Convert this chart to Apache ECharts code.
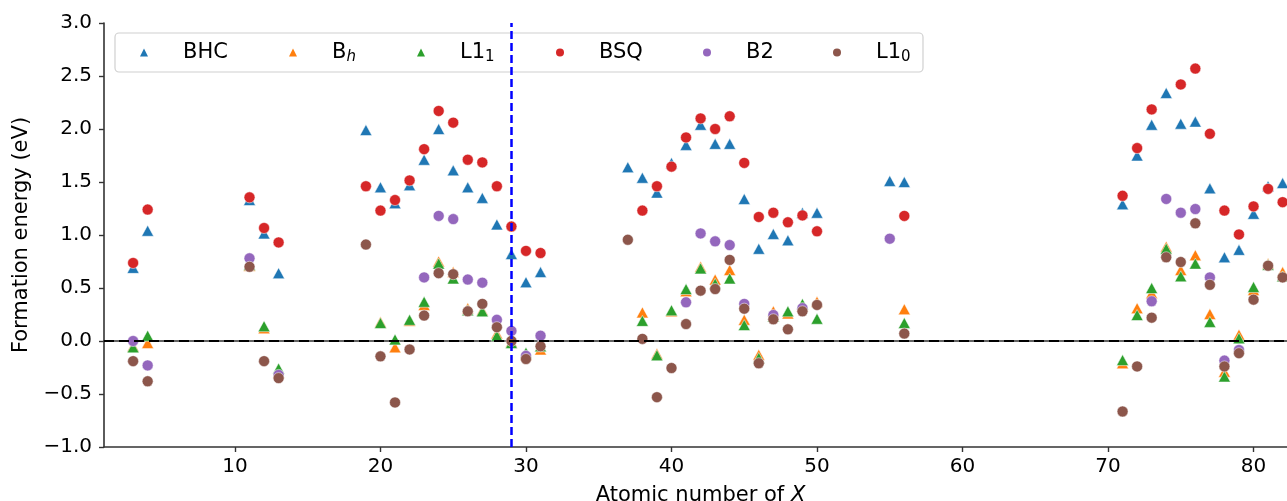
<!DOCTYPE html>
<html>
<head>
<meta charset="utf-8">
<script src="https://cdn.jsdelivr.net/npm/echarts@6/dist/echarts.min.js"></script>
<style>
  html, body { margin: 0; padding: 0; background: #fff; }
  #chart { width: 1287px; height: 501px; }
</style>
</head>
<body>
<div id="chart"></div>
<script>
// atomic number of X
const Z = [3, 4, 11, 12, 13, 19, 20, 21, 22, 23, 24, 25, 26, 27, 28, 29, 30, 31,
  37, 38, 39, 40, 41, 42, 43, 44, 45, 46, 47, 48, 49, 50, 55, 56,
  71, 72, 73, 74, 75, 76, 77, 78, 79, 80, 81, 82];

const BHC = [0.69, 1.04, 1.33, 1.015, 0.64, 1.99, 1.45, 1.30, 1.47, 1.71, 2.00, 1.61, 1.45, 1.35, 1.10, 0.82, 0.555, 0.65,
  1.64, 1.54, 1.40, 1.68, 1.85, 2.04, 1.86, 1.86, 1.34, 0.87, 1.01, 0.95, 1.21, 1.21, 1.51, 1.50,
  1.29, 1.75, 2.04, 2.34, 2.05, 2.07, 1.44, 0.79, 0.86, 1.20, 1.46, 1.49];
const Bh = [-0.05, -0.02, 0.71, 0.12, -0.30, null, 0.18, -0.06, 0.19, 0.34, 0.75, 0.65, 0.31, 0.29, 0.07, -0.01, -0.13, -0.08,
  null, 0.27, -0.12, 0.28, 0.47, 0.70, 0.58, 0.67, 0.20, -0.13, 0.28, 0.26, 0.33, 0.37, null, 0.30,
  -0.21, 0.31, 0.45, 0.89, 0.67, 0.81, 0.255, -0.29, 0.06, 0.48, 0.73, 0.65];
const L11 = [-0.06, 0.05, 0.72, 0.14, -0.26, null, 0.17, 0.015, 0.20, 0.37, 0.73, 0.59, 0.29, 0.28, 0.05, -0.02, -0.11, -0.05,
  null, 0.19, -0.135, 0.29, 0.49, 0.685, 0.54, 0.59, 0.15, -0.16, 0.23, 0.28, 0.35, 0.21, null, 0.17,
  -0.18, 0.245, 0.50, 0.87, 0.61, 0.73, 0.18, -0.335, 0.025, 0.51, 0.72, 0.61];
const BSQ = [0.736, 1.24, 1.355, 1.066, 0.93, 1.46, 1.23, 1.33, 1.515, 1.81, 2.17, 2.06, 1.71, 1.685, 1.46, 1.08, 0.85, 0.83,
  null, 1.23, 1.46, 1.645, 1.92, 2.10, 2.00, 2.12, 1.68, 1.17, 1.21, 1.12, 1.185, 1.035, null, 1.18,
  1.37, 1.82, 2.185, null, 2.42, 2.57, 1.955, 1.23, 1.005, 1.27, 1.435, 1.31];
const B2 = [0.0, -0.23, 0.78, null, -0.32, null, null, null, null, 0.60, 1.18, 1.15, 0.58, 0.55, 0.20, 0.095, -0.14, 0.05,
  null, null, null, null, 0.365, 1.015, 0.94, 0.905, 0.35, null, 0.245, null, 0.31, null, 0.965, null,
  null, null, 0.375, 1.34, 1.21, 1.245, 0.60, -0.185, -0.085, null, null, null];
const L10 = [-0.19, -0.38, 0.70, -0.19, -0.35, 0.91, -0.145, -0.58, -0.08, 0.24, 0.64, 0.63, 0.28, 0.35, 0.13, 0.0, -0.17, -0.05,
  0.955, 0.02, -0.53, -0.255, 0.16, 0.475, 0.49, 0.765, 0.305, -0.21, 0.205, 0.11, 0.28, 0.34, null, 0.07,
  -0.665, -0.24, 0.22, 0.79, 0.745, 1.11, 0.53, -0.24, -0.115, 0.39, 0.71, 0.60];

const xTicks = [10, 20, 30, 40, 50, 60, 70, 80];

const font = 'DejaVu Sans';
const pairs = vals => Z.map((z, i) => [z, vals[i]]).filter(p => p[1] !== null);

const seriesDefs = [
  { name: 'BHC', data: BHC, color: '#1f77b4', symbol: 'triangle', label: '{g| }{n|BHC}', pos: 144 },
  { name: 'Bh', data: Bh, color: '#ff7f0e', symbol: 'triangle', label: '{g| }{n|B}{i|h}', pos: 293 },
  { name: 'L11', data: L11, color: '#2ca02c', symbol: 'triangle', label: '{g| }{n|L1}{s|1}', pos: 421 },
  { name: 'BSQ', data: BSQ, color: '#d62728', symbol: 'circle', label: '{g| }{n|BSQ}', pos: 560 },
  { name: 'B2', data: B2, color: '#9467bd', symbol: 'circle', label: '{g| }{n|B2}', pos: 707 },
  { name: 'L10', data: L10, color: '#8c564b', symbol: 'circle', label: '{g| }{n|L1}{s|0}', pos: 837 }
];

const rich = {
  g: { width: 30, fontSize: 21 },
  n: { fontFamily: font, fontSize: 21, color: '#000' },
  i: { fontFamily: font, fontSize: 15, fontStyle: 'italic', color: '#000', padding: [9, 0, 0, 0] },
  s: { fontFamily: font, fontSize: 15, color: '#000', padding: [9, 0, 0, 0] }
};

const chart = echarts.init(document.getElementById('chart'));

const series = seriesDefs.map((d, k) => {
  const s = {
    name: d.name,
    type: 'scatter',
    symbol: d.symbol,
    symbolSize: d.symbol === 'triangle' ? [12, 11] : 11,
    data: pairs(d.data),
    itemStyle: { color: d.color, opacity: 1, borderColor: '#fff', borderWidth: 0.5 },
    emphasis: { disabled: true }
  };
  if (k === seriesDefs.length - 1) {
    s.markLine = {
      silent: true,
      symbol: ['none', 'none'],
      label: { show: false },
      animation: false,
      data: [
        { yAxis: 0, lineStyle: { color: '#000', width: 2, type: [10, 5] } },
        { xAxis: 29, lineStyle: { color: '#0000ff', width: 2.5, type: [8, 4] } }
      ]
    };
  }
  return s;
});

const legends = seriesDefs.map(d => ({
  data: [{ name: d.name, itemStyle: { borderWidth: 0 } }],
  left: d.pos - 4,
  top: 42,
  padding: 0,
  itemWidth: 8,
  itemHeight: 8,
  selectedMode: false,
  formatter: () => d.label,
  textStyle: { rich: rich }
}));

chart.setOption({
  animation: false,
  backgroundColor: '#fff',
  grid: { left: 104, right: 0, top: 23, bottom: 54, outerBoundsMode: 'none', containLabel: false },
  legend: legends,
  graphic: [{
    type: 'rect',
    z: 3,
    shape: { x: 115, y: 33, width: 808, height: 39, r: 4 },
    style: { fill: 'rgba(255,255,255,0.8)', stroke: '#d0d0d0', lineWidth: 1.2 }
  }],
  xAxis: [{
    type: 'value',
    min: 1,
    max: 82.3,
    name: '{n|Atomic number of }{i|X}',
    nameLocation: 'middle',
    nameGap: 38,
    nameTextStyle: {
      padding: [0, 0, 0, 10],
      rich: {
        n: { fontFamily: font, fontSize: 21, color: '#000' },
        i: { fontFamily: font, fontSize: 21, fontStyle: 'italic', color: '#000' }
      }
    },
    axisLine: { show: true, onZero: false, lineStyle: { color: '#333', width: 1.6 } },
    axisTick: { show: true, customValues: xTicks, length: 5, lineStyle: { color: '#333', width: 1.4 } },
    axisLabel: { customValues: xTicks, margin: 10, fontFamily: font, fontSize: 20, color: '#000' },
    splitLine: { show: false }
  }, {
    type: 'value',
    position: 'top',
    min: 1,
    max: 82.3,
    axisLine: { show: true, lineStyle: { color: '#333', width: 1.6 } },
    axisTick: { show: false },
    axisLabel: { show: false },
    splitLine: { show: false }
  }],
  yAxis: {
    type: 'value',
    min: -1,
    max: 3,
    interval: 0.5,
    name: 'Formation energy (eV)',
    nameLocation: 'middle',
    nameGap: 66,
    nameTextStyle: { fontFamily: font, fontSize: 21, color: '#000' },
    axisLine: { show: true, onZero: false, lineStyle: { color: '#333', width: 1.6 } },
    axisTick: { show: true, length: 5, lineStyle: { color: '#333', width: 1.4 } },
    axisLabel: {
      margin: 12,
      fontFamily: font,
      fontSize: 20,
      color: '#000',
      formatter: v => (v < 0 ? '\u2212' : '') + Math.abs(v).toFixed(1)
    },
    splitLine: { show: false }
  },
  series: series
});
</script>
</body>
</html>
